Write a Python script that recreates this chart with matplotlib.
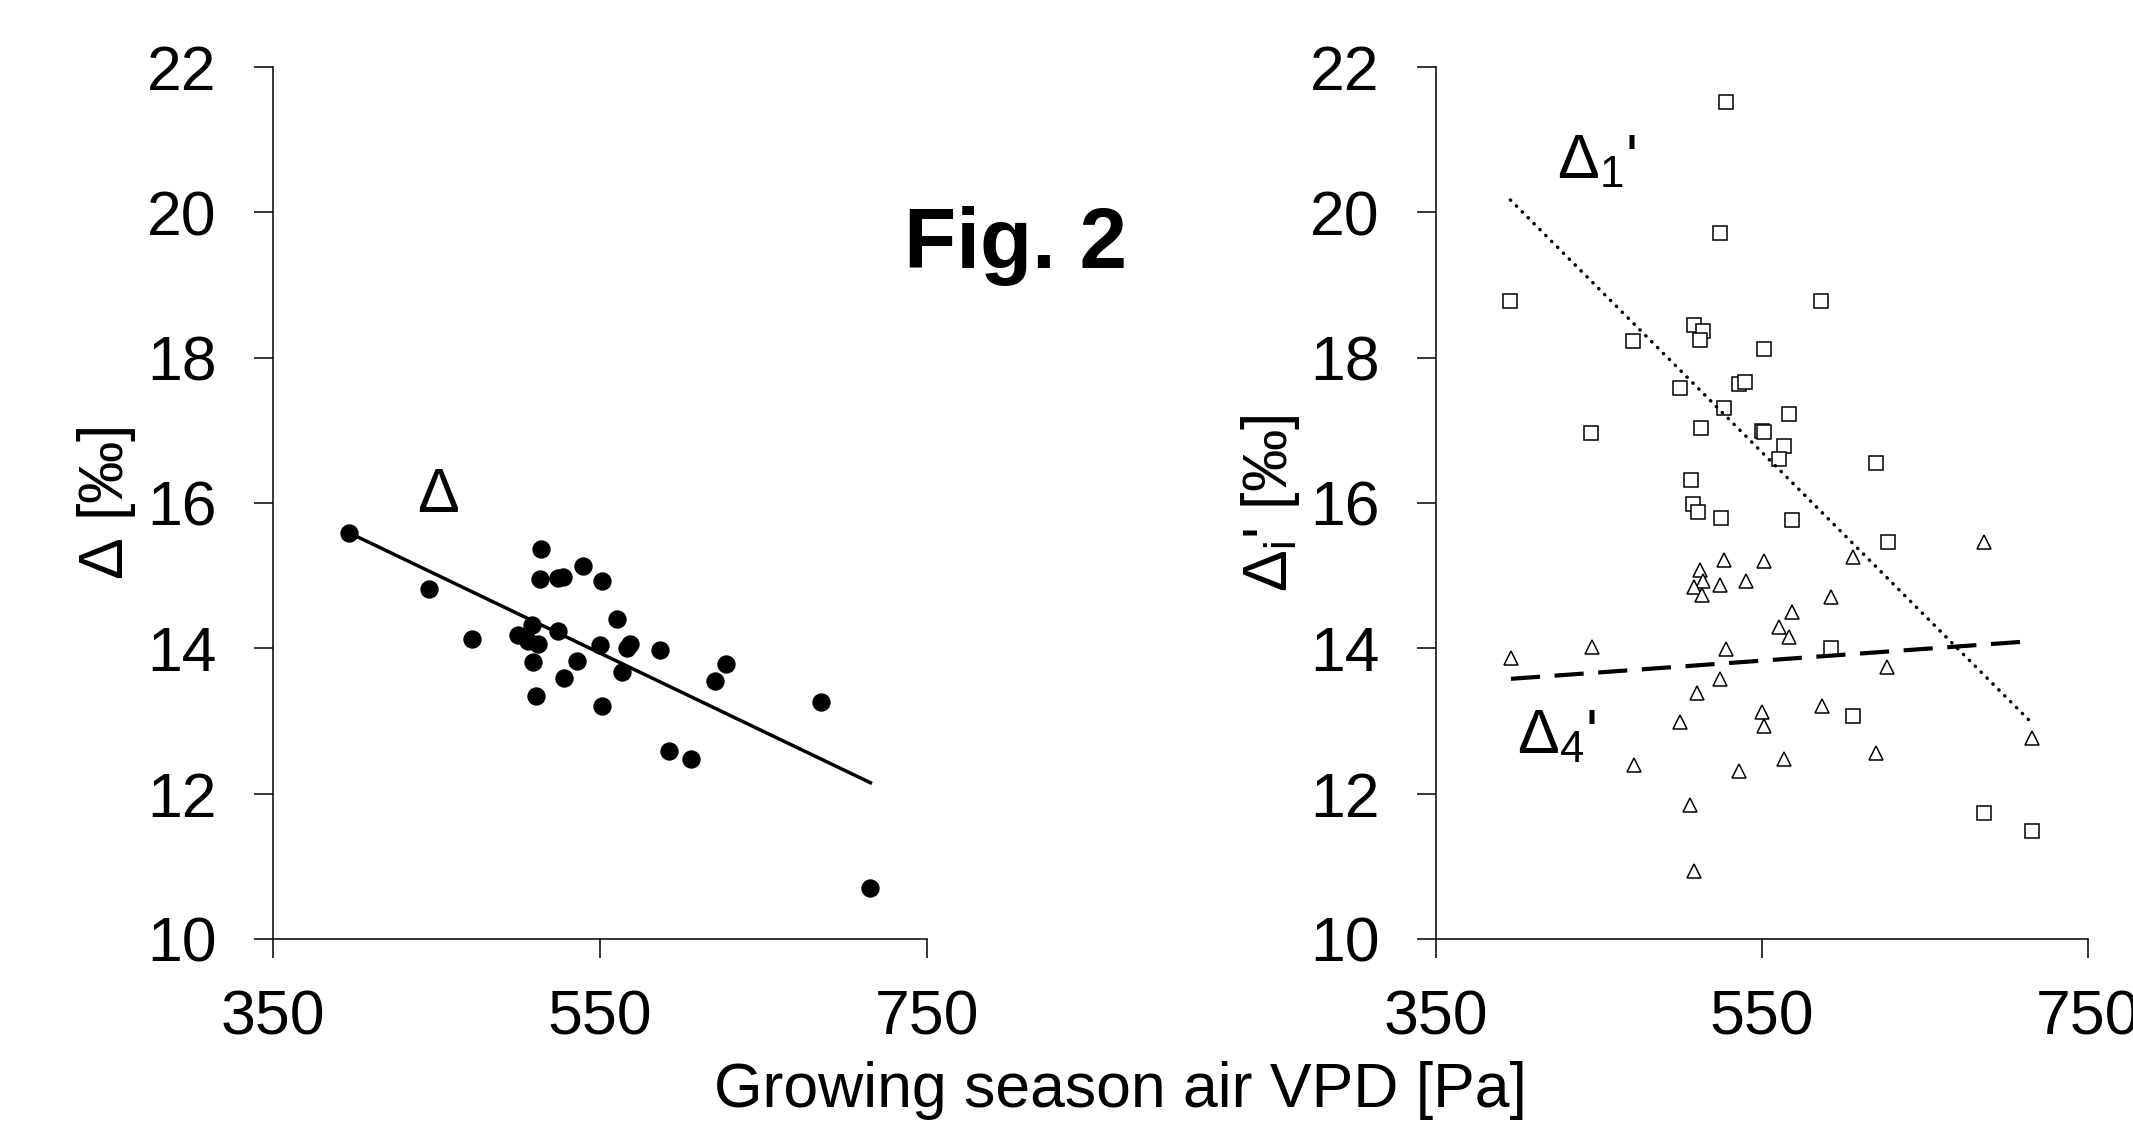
import numpy as np
import matplotlib
matplotlib.use("Agg")
import matplotlib.pyplot as plt

plt.rcParams['font.family'] = ['Liberation Sans', 'DejaVu Sans']
plt.rcParams['mathtext.fontset'] = 'custom'
plt.rcParams['mathtext.rm'] = 'Liberation Sans'
plt.rcParams['mathtext.it'] = 'Liberation Sans'
plt.rcParams['mathtext.bf'] = 'Liberation Sans:bold'

# left panel: Delta vs growing season VPD
vpd_d = [396.5, 445.7, 471.4, 500.0, 508.5, 505.8, 512.3, 508.8, 510.7, 513.7, 513.1,
         524.3, 527.4, 539.9, 551.3, 524.6, 536.0, 528.2, 550.0, 560.4, 566.6, 568.6,
         563.6, 551.3, 586.9, 627.0, 620.1, 592.0, 605.7, 685.4, 715.4]
delta = [15.59, 14.82, 14.13, 14.19, 14.32, 14.10, 14.06, 13.81, 13.35, 15.37, 14.96,
         14.97, 14.98, 15.13, 14.93, 14.24, 13.83, 13.59, 14.05, 14.40, 14.00, 14.06,
         13.67, 13.21, 13.98, 13.78, 13.55, 12.58, 12.48, 13.26, 10.70]
fit_x = [396.5, 715.4]
fit_delta = [15.59, 12.15]

# right panel: Delta1' (squares) and Delta4' (triangles)
vpd_d1 = [527.7, 524.2, 395.7, 586.5, 508.5, 513.6, 512.2, 471.1, 551.2, 499.9, 535.8,
          539.8, 526.7, 566.5, 445.2, 512.8, 550.2, 551.0, 563.6, 560.6, 620.2, 506.4,
          508.0, 510.6, 524.8, 568.6, 627.1, 592.1, 605.8, 685.9, 715.8]
delta1 = [21.52, 19.72, 18.78, 18.78, 18.45, 18.37, 18.24, 18.23, 18.12, 17.58, 17.64,
          17.67, 17.31, 17.22, 16.96, 17.03, 16.99, 16.98, 16.79, 16.60, 16.55, 16.31,
          15.99, 15.87, 15.80, 15.76, 15.47, 14.01, 13.07, 11.73, 11.48]
vpd_d4 = [685.9, 526.9, 551.5, 605.8, 512.2, 513.6, 508.2, 524.2, 513.0, 540.0, 592.4,
          568.6, 560.6, 566.5, 396.0, 445.5, 527.7, 626.9, 524.5, 510.4, 586.8, 549.9,
          551.2, 499.9, 715.8, 620.2, 563.6, 471.3, 536.0, 506.1, 508.5]
delta4 = [15.47, 15.21, 15.20, 15.26, 15.08, 14.92, 14.85, 14.87, 14.74, 14.93, 14.71,
          14.50, 14.29, 14.15, 13.87, 14.02, 13.99, 13.74, 13.58, 13.38, 13.20, 13.12,
          12.93, 12.99, 12.77, 12.56, 12.48, 12.40, 12.31, 11.85, 10.94]
fit1_x = [395.7, 716.1]
fit1_y = [20.17, 12.96]
fit4_x = [396.0, 716.0]
fit4_y = [13.58, 14.10]

xticks = [350, 550, 750]
yticks = [10, 12, 14, 16, 18, 20, 22]

fs = 45
fig = plt.figure(figsize=(21.33, 11.21), dpi=100)
ax1 = fig.add_axes([0.128, 0.1624, 0.3066, 0.7778])
ax2 = fig.add_axes([0.6732, 0.1624, 0.3057, 0.7778])

for ax in (ax1, ax2):
    ax.set_xlim(350, 750)
    ax.set_ylim(10, 22)
    ax.set_xticks(xticks)
    ax.set_yticks(yticks)
    ax.spines['top'].set_visible(False)
    ax.spines['right'].set_visible(False)
    for s in ('left', 'bottom'):
        ax.spines[s].set_linewidth(1.1)
    ax.tick_params(axis='both', direction='out', length=13.7, width=1.1, labelsize=fs)
    ax.tick_params(axis='y', pad=27)
    ax.tick_params(axis='x', pad=22)

ax1.plot(vpd_d, delta, 'o', color='black', ms=12.2, clip_on=False)
ax1.plot(fit_x, fit_delta, '-', color='black', lw=2.5)
ax1.text(438.3, 15.88, r'$\mathregular{\Delta}$', fontsize=fs, ha='left', va='baseline')
ax1.set_ylabel(r'$\mathregular{\Delta}$ [‰]', fontsize=fs)
ax1.yaxis.set_label_coords(-0.206, 0.5)

ax2.plot(vpd_d1, delta1, 's', mfc='white', mec='black', mew=1.1, ms=9.6, clip_on=False)
ax2.plot(vpd_d4, delta4, '^', mfc='white', mec='black', mew=1.1, ms=9.6, clip_on=False)
ax2.plot(fit1_x, fit1_y, color='black', lw=2.5, linestyle=(0, (0.1, 2.3)),
         dash_capstyle='round')
ax2.plot(fit4_x, fit4_y, color='black', lw=3, linestyle=(0, (7, 3.5)))
ax2.text(424, 20.47, r"$\mathregular{\Delta_1}$'", fontsize=fs, ha='left', va='baseline')
ax2.text(400, 12.56, r"$\mathregular{\Delta_4}$'", fontsize=fs, ha='left', va='baseline')
ax2.set_ylabel(r"$\mathregular{\Delta_i}$' [‰]", fontsize=fs)
ax2.yaxis.set_label_coords(-0.2055, 0.5)

fig.text(714 / 2133, 14 / 1121, 'Growing season air VPD [Pa]', fontsize=fs,
         ha='left', va='baseline')
fig.text(0.476, 0.761, 'Fig. 2', fontsize=61.5, fontweight='bold', ha='center', va='baseline')

fig.savefig('out.png', dpi=100)
